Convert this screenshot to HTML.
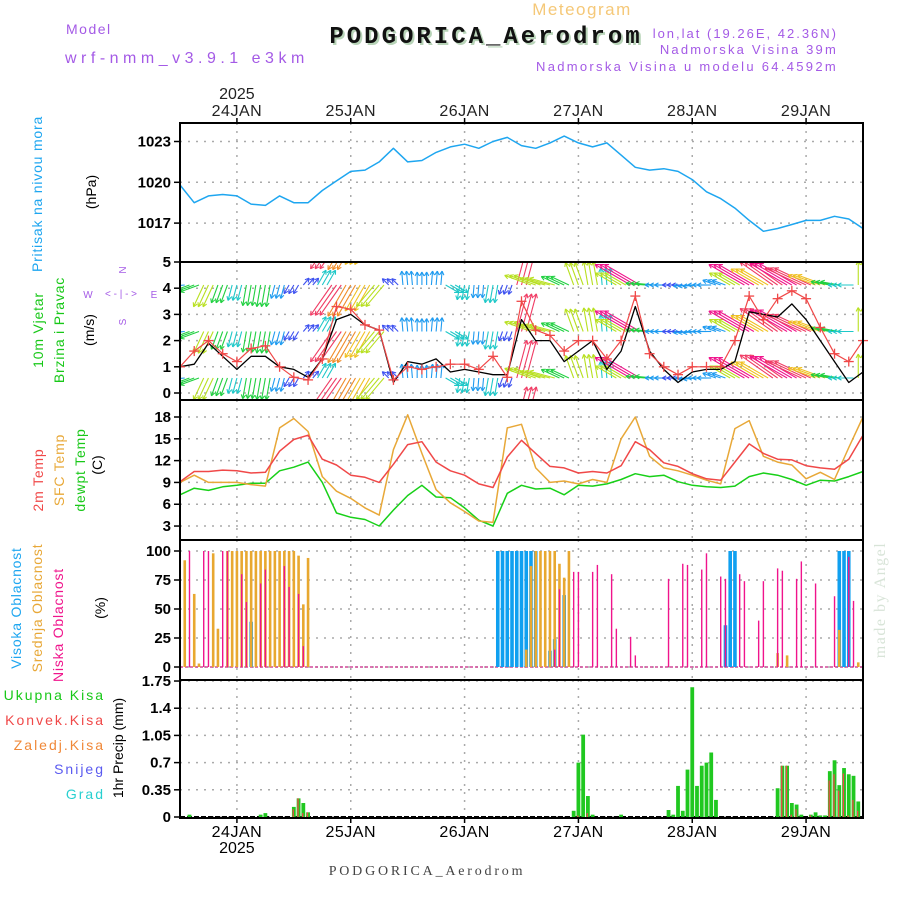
<!DOCTYPE html>
<html><head><meta charset="utf-8"><style>
html,body{margin:0;padding:0;background:#fff;}
svg{display:block;font-family:"Liberation Sans",sans-serif;}
</style></head><body>
<svg id="chart" width="900" height="900" viewBox="0 0 900 900" xmlns="http://www.w3.org/2000/svg">
<defs>
<clipPath id="cw"><rect x="180" y="262" width="683" height="138"/></clipPath>
</defs>
<g>
<text x="582" y="15" font-size="17" fill="#f5c878" text-anchor="middle" letter-spacing="1.5">Meteogram</text>
<text x="488" y="45" font-size="24" font-weight="bold" fill="#b8d4b8" text-anchor="middle" font-family="Liberation Mono, monospace" letter-spacing="3">PODGORICA_Aerodrom</text>
<text x="486" y="43" font-size="24" font-weight="bold" fill="#111" text-anchor="middle" font-family="Liberation Mono, monospace" letter-spacing="3">PODGORICA_Aerodrom</text>
<text x="66" y="34" font-size="14" fill="#a45ae6" letter-spacing="1.5">Model</text>
<text x="65" y="63" font-size="16" fill="#a45ae6" letter-spacing="4.5">wrf-nmm_v3.9.1 e3km</text>
<text x="838" y="38" font-size="13" fill="#a45ae6" text-anchor="end" letter-spacing="2">lon,lat (19.26E, 42.36N)</text>
<text x="838" y="54" font-size="13" fill="#a45ae6" text-anchor="end" letter-spacing="2.2">Nadmorska Visina 39m</text>
<text x="838" y="71" font-size="13" fill="#a45ae6" text-anchor="end" letter-spacing="2.3">Nadmorska Visina u modelu 64.4592m</text>
</g>
<g id="g-labels">
<text transform="translate(42,194) rotate(-90)" font-size="14" fill="#1ea6f0" text-anchor="middle" letter-spacing="0.8">Pritisak na nivou mora</text>
<text transform="translate(96,192) rotate(-90)" font-size="14" fill="#000" text-anchor="middle">(hPa)</text>
<text transform="translate(43,330) rotate(-90)" font-size="14" fill="#18c818" text-anchor="middle" letter-spacing="0.8">10m Vjetar</text>
<text transform="translate(64,330) rotate(-90)" font-size="14" fill="#18c818" text-anchor="middle" letter-spacing="0.8">Brzina i Pravac</text>
<text transform="translate(94,330) rotate(-90)" font-size="14" fill="#000" text-anchor="middle">(m/s)</text>
<g fill="#a45ae6" font-size="10" text-anchor="middle">
<text x="88" y="298">W</text><text x="154" y="298">E</text>
<text transform="translate(126,270) rotate(-90)">N</text><text transform="translate(126,322) rotate(-90)">S</text>
<text x="121" y="297">&lt; - | - &gt;</text>
</g>
<text transform="translate(43,480) rotate(-90)" font-size="14" fill="#f04848" text-anchor="middle" letter-spacing="0.8">2m Temp</text>
<text transform="translate(64,470) rotate(-90)" font-size="14" fill="#e8a838" text-anchor="middle" letter-spacing="0.8">SFC Temp</text>
<text transform="translate(85,470) rotate(-90)" font-size="14" fill="#18c818" text-anchor="middle" letter-spacing="0.8">dewpt Temp</text>
<text transform="translate(102,465) rotate(-90)" font-size="14" fill="#000" text-anchor="middle">(C)</text>
<text transform="translate(21,608) rotate(-90)" font-size="14" fill="#1ea6f0" text-anchor="middle" letter-spacing="0.8">Visoka Oblacnost</text>
<text transform="translate(42,608) rotate(-90)" font-size="14" fill="#e8a838" text-anchor="middle" letter-spacing="0.8">Srednja Oblacnost</text>
<text transform="translate(63,625) rotate(-90)" font-size="14" fill="#f0148c" text-anchor="middle" letter-spacing="0.8">Niska Oblacnost</text>
<text transform="translate(105,608) rotate(-90)" font-size="14" fill="#000" text-anchor="middle">(%)</text>
<text x="105" y="700" font-size="14" fill="#18c818" text-anchor="end" letter-spacing="2">Ukupna  Kisa</text>
<text x="105" y="725" font-size="14" fill="#f04848" text-anchor="end" letter-spacing="2">Konvek.Kisa</text>
<text x="105" y="750" font-size="14" fill="#f08838" text-anchor="end" letter-spacing="2">Zaledj.Kisa</text>
<text x="105" y="774" font-size="14" fill="#5a5af0" text-anchor="end" letter-spacing="2">Snijeg</text>
<text x="105" y="799" font-size="14" fill="#28d0d0" text-anchor="end" letter-spacing="2">Grad</text>
<text transform="translate(123,748) rotate(-90)" font-size="14" fill="#000" text-anchor="middle">1hr Precip (mm)</text>
<text transform="translate(885,600) rotate(-90)" font-size="16" fill="#d8e4d8" text-anchor="middle" font-family="Liberation Serif, serif" letter-spacing="1.5">made by Angel</text>
<text x="427" y="875" font-size="14" fill="#444" text-anchor="middle" font-family="Liberation Serif, serif" letter-spacing="2.8">PODGORICA_Aerodrom</text>
</g>
<g id="g-grid"></g>
<g id="g-data"></g>
<g id="g-frames"></g>
</svg>
<script>
// ---- data (3-hourly, from 23JAN 12h to 29JAN 12h) ----
const dayLabels = ["24JAN","25JAN","26JAN","27JAN","28JAN","29JAN"];
const dayHours = [12,36,60,84,108,132];
const pressure = [1019.8,1018.5,1019.0,1019.1,1019.0,1018.4,1018.3,1019.0,1018.5,1018.5,1019.4,1020.1,1020.8,1020.9,1021.5,1022.5,1021.5,1021.6,1022.2,1022.6,1022.8,1022.5,1023.0,1023.3,1022.7,1022.5,1022.9,1023.4,1022.9,1022.6,1022.9,1022.0,1021.1,1020.9,1021.0,1020.8,1020.2,1019.3,1018.8,1018.1,1017.2,1016.4,1016.6,1016.9,1017.2,1017.2,1017.5,1017.3,1016.6];
const windSpeed = [1.0,1.1,1.9,1.4,0.9,1.4,1.4,1.0,0.9,0.6,1.3,2.8,3.0,2.6,2.4,0.4,1.2,1.1,1.3,0.8,0.9,0.8,0.7,0.7,2.8,2.0,2.0,1.2,1.6,2.0,0.9,1.6,3.3,1.6,0.9,0.4,0.8,0.9,0.9,1.2,3.1,3.0,2.9,3.4,2.8,2.0,1.2,0.4,0.8];
const windGust = [1.0,1.6,2.0,1.5,1.2,1.7,1.8,1.0,0.6,0.5,1.3,3.3,3.2,2.6,2.4,0.5,1.0,0.9,1.0,1.1,1.1,0.9,1.4,0.6,3.5,2.4,2.2,1.6,2.0,2.0,1.3,2.0,3.7,1.5,1.0,0.7,1.0,1.0,1.0,2.0,3.7,2.8,3.6,3.9,3.6,2.5,1.5,1.2,2.0];
const windDir = [265,250,205,200,195,190,190,195,210,40,30,215,210,210,220,315,355,0,5,120,190,185,190,200,15,290,285,295,340,350,355,300,300,275,270,270,265,270,290,300,300,300,305,300,295,290,280,270,0];
const temp2m = [9.1,10.5,10.5,10.7,10.6,10.3,10.4,13.3,14.9,15.5,12.2,11.4,10.0,9.7,9.0,11.5,14.2,14.6,11.8,10.6,10.0,8.8,8.3,12.5,14.8,13.0,11.2,11.0,10.3,10.5,10.3,11.3,14.6,13.5,11.7,11.2,10.2,9.5,9.3,11.8,14.3,13.0,12.2,12.1,11.3,11.0,10.8,12.2,15.5];
const tempSfc = [9.0,10.0,9.0,9.0,9.0,8.7,8.5,16.5,17.8,16.0,9.8,7.8,6.8,5.5,4.5,13.5,18.3,13.0,8.0,6.2,5.0,3.7,3.5,16.5,17.0,11.0,9.0,9.2,8.8,9.4,9.0,15.0,18.0,12.6,11.0,10.6,10.0,9.3,8.8,16.4,17.5,12.6,11.8,11.4,9.5,10.4,9.4,13.8,18.0];
const dewpt = [7.3,8.2,7.9,8.4,8.6,8.9,8.9,10.6,11.1,11.8,9.0,4.8,4.2,3.9,3.0,5.2,7.2,8.6,7.0,6.9,5.5,3.8,3.0,7.5,8.6,8.1,8.2,7.3,8.6,8.5,8.8,9.4,10.2,9.8,10.0,9.1,8.6,8.4,8.3,8.5,9.8,10.3,10.0,9.4,8.6,9.3,9.2,9.8,10.5];
// clouds (hour index, percent)
const highHours = [15,67,68,69,70,71,72,73,74,75,78,79,81,115,116,117,139,140,141];
const highVals  = [39,100,100,100,100,100,100,100,100,100,14,24,62,36,100,100,100,100,100];
const midHours = [1,3,4,7,8,10,11,12,13,14,15,16,17,18,19,20,21,22,23,24,25,26,27,73,74,75,76,77,78,79,80,81,82,126,128,139,143];
const midVals  = [92,63,3,98,33,100,100,100,100,100,100,100,100,100,100,100,100,100,100,100,96,54,94,15,87,100,100,100,100,100,89,77,100,12,10,32,4];
const lowHours = [2,5,6,9,10,13,14,17,18,22,23,25,26,79,80,83,84,87,88,91,92,95,96,103,106,107,110,111,114,115,118,119,122,123,126,127,130,131,134,138,141,142];
const lowVals  = [100,100,100,100,100,80,56,72,84,87,69,63,18,15,67,82,82,82,88,80,33,26,10,76,89,88,84,98,78,76,80,74,40,74,85,83,76,91,72,61,95,57];
// precipitation (hour index, mm)
const precipHours = [2,17,18,24,25,26,27,83,84,85,86,87,93,103,104,105,106,107,108,109,110,111,112,113,126,127,128,129,130,131,133,134,135,136,137,138,139,140,141,142,143];
const precipTotal = [0.03,0.03,0.05,0.13,0.24,0.18,0.06,0.08,0.70,1.06,0.27,0.03,0.03,0.09,0.03,0.40,0.08,0.61,1.67,0.40,0.66,0.70,0.83,0.22,0.37,0.66,0.66,0.18,0.16,0.03,0.03,0.06,0.02,0.02,0.59,0.73,0.41,0.63,0.55,0.53,0.20];
const precipConv  = [0,0,0,0.10,0.24,0.05,0.06,0,0.02,0,0.05,0,0,0,0,0,0,0,0,0,0,0,0,0,0,0.66,0.66,0.03,0.1,0,0.02,0,0,0,0.47,0.55,0.34,0.56,0.02,0.22,0.08];
const pTicks = [1017,1020,1023];
const wTicks = [0,1,2,3,4,5];
const tTicks = [3,6,9,12,15,18];
const cTicks = [0,25,50,75,100];
const rTicks = [0,0.35,0.7,1.05,1.4,1.75];
const rTickLabels = ["0","0.35","0.7","1.05","1.4","1.75"];

// ---- axes ----
const X0=180, X1=863, HSPAN=144;
const x = h => X0 + h*(X1-X0)/HSPAN;
const py = v => 141.5 + (1023-v)*13.6;
const wy = v => 393 - v*26.2;
const ty = v => 417 + (18-v)*7.27;
const cy = v => 667 - v*1.16;
const ry = v => 817 - v*77.7;
const panels = [{y0:123,y1:262,ticks:pTicks,f:py,name:'pressure'},{y0:262,y1:400,ticks:wTicks,f:wy,name:'wind'},{y0:400,y1:540,ticks:tTicks,f:ty,name:'temperature'},{y0:540,y1:680,ticks:cTicks,f:cy,name:'cloud'},{y0:680,y1:818,ticks:rTicks,f:ry,name:'precip'}];

const NS='http://www.w3.org/2000/svg';
function mk(tag, attrs, parent){const e=document.createElementNS(NS,tag);for(const k in attrs)e.setAttribute(k,attrs[k]);parent.appendChild(e);return e;}
const gGrid=document.getElementById('g-grid'), gData=document.getElementById('g-data'), gFr=document.getElementById('g-frames');

panels.forEach(p=>{
  p.ticks.forEach((t,i)=>{
    const yy=p.f(t);
    const l=mk('line',{x1:X0,x2:X1,y1:yy,y2:yy,stroke:'#aaa','stroke-width':1.5,'stroke-dasharray':'2 6'},gGrid);
    
    
    const tk=mk('line',{x1:X0-6,x2:X0,y1:yy,y2:yy,stroke:'#000','stroke-width':1.5},gFr);
    
    
    const lab = p.name==='precip'? rTickLabels[i] : String(t);
    const tx=mk('text',{x:X0-9,y:yy+5,'font-size':15,'font-weight':'bold','text-anchor':'end',fill:'#000'},gFr);
    tx.textContent=lab;
    
    
  });
  dayHours.forEach(h=>{
    const l=mk('line',{x1:x(h),x2:x(h),y1:p.y0,y2:p.y1,stroke:'#aaa','stroke-width':1.5,'stroke-dasharray':'2 6'},gGrid);
    
    
  });
  const r=mk('rect',{x:X0,y:p.y0,width:X1-X0,height:p.y1-p.y0,fill:'none',stroke:'#000','stroke-width':2},gFr);
  
  
});
dayLabels.forEach((d,i)=>{
  const t1=mk('text',{x:x(dayHours[i]),y:116,'font-size':16,'text-anchor':'middle',fill:'#222','letter-spacing':0.5},gFr);
  t1.textContent=d;
  
  
  const t2=mk('text',{x:x(dayHours[i]),y:837,'font-size':16,'text-anchor':'middle',fill:'#000','letter-spacing':0.5},gFr);
  t2.textContent=d;
  
  
  mk('line',{x1:x(dayHours[i]),x2:x(dayHours[i]),y1:118,y2:123,stroke:'#000','stroke-width':1.5},gFr);
  mk('line',{x1:x(dayHours[i]),x2:x(dayHours[i]),y1:818,y2:823,stroke:'#000','stroke-width':1.5},gFr);
});
{
  const y1=mk('text',{x:x(12),y:99,'font-size':16,'text-anchor':'middle',fill:'#222'},gFr);
  y1.textContent='2025';
  
  
  const y2=mk('text',{x:x(12),y:853,'font-size':16,'text-anchor':'middle',fill:'#000'},gFr);
  y2.textContent='2025';
  
  
}

function line(arr, f, color, name, w){
  const pts=arr.map((v,i)=>x(i*3).toFixed(1)+','+f(v).toFixed(1)).join(' ');
  const pl=mk('polyline',{points:pts,fill:'none',stroke:color,'stroke-width':w||1.5,'stroke-linejoin':'round'},gData);
  
  
  return pl;
}
line(pressure, py, '#1ea6f0', 'pressure-line');

// wind arrows
const gW=mk('g',{'clip-path':'url(#cw)'},gData);


function speedColor(s){
  const stops=[[0.3,'#8a2be2'],[0.7,'#3c50f0'],[1.0,'#1e9bf0'],[1.4,'#1ec8c8'],[1.9,'#20d040'],[2.4,'#b8e020'],[2.8,'#f0c020'],[3.2,'#f08c28'],[3.6,'#f03c64'],[9,'#f0148c']];
  for(const st of stops) if(s<=st[0]) return st[1];
  return '#f0148c';
}
const rowsY=[238.5,285,331.5,378,424.5];
windDir.forEach((d,i)=>{
  const s=windGust[i], len=4+s*10, c=speedColor(s);
  const a=d*Math.PI/180;
  for(let j=0;j<3;j++){
    const h=i*3+j-1; if(h<0||h>HSPAN) continue;
    rowsY.forEach(by=>{
      const x0=x(h), x1=x0+Math.sin(a)*len, y1=by-Math.cos(a)*len;
      const g=mk('g',{stroke:c,'stroke-width':1.1,fill:'none'},gW);
      
      
      mk('line',{x1:x0,y1:by,x2:x1,y2:y1},g);
      const hl=4.5;
      [a+Math.PI-0.5,a+Math.PI+0.5].forEach(b=>{
        mk('line',{x1:x1,y1:y1,x2:x1+Math.sin(b)*hl,y2:y1-Math.cos(b)*hl},g);
      });
    });
  }
});
line(windSpeed, wy, '#000', 'wind-speed-line', 1.3);
line(windGust, wy, '#f04848', 'wind-gust-line', 1.2);
windGust.forEach((v,i)=>{
  const cx=x(i*3), cyy=wy(v);
  const g=mk('g',{stroke:'#f04848','stroke-width':1.3},gData);
  
  
  mk('line',{x1:cx-5,x2:cx+5,y1:cyy,y2:cyy},g);
  mk('line',{x1:cx,x2:cx,y1:cyy-5,y2:cyy+5},g);
});

line(dewpt, ty, '#18d018', 'dewpoint-line');
line(tempSfc, ty, '#e8a838', 'sfc-temp-line');
line(temp2m, ty, '#f04848', 'temp2m-line');

// clouds
mk('line',{x1:X0,x2:X1,y1:cy(0),y2:cy(0),stroke:'#d04898','stroke-width':1.5,'stroke-dasharray':'3 2'},gData);
function bars(hours, vals, f, color, w, name, dx){
  hours.forEach((h,i)=>{
    const v=vals[i]; if(v<=0) return;
    const top=f(v), base=f(0);
    const r=mk('rect',{x:x(h)-w/2+(dx||0),y:top,width:w,height:base-top,fill:color},gData);
    
    
  });
}
bars(highHours, highVals, cy, '#10a0f0', 3.6, 'high-cloud-bar');
bars(midHours, midVals, cy, '#e8a830', 2.6, 'mid-cloud-bar');
bars(lowHours, lowVals, cy, '#f0148c', 1.4, 'low-cloud-bar');

// precipitation
mk('line',{x1:X0,x2:X1,y1:ry(0),y2:ry(0),stroke:'#000','stroke-width':2,'stroke-dasharray':'5 2'},gData);
bars(precipHours, precipTotal, ry, '#20c820', 3.8, 'precip-total-bar');
bars(precipHours, precipConv, ry, '#f04848', 1.3, 'precip-convective-bar', -0.6);
</script>
</body></html>
